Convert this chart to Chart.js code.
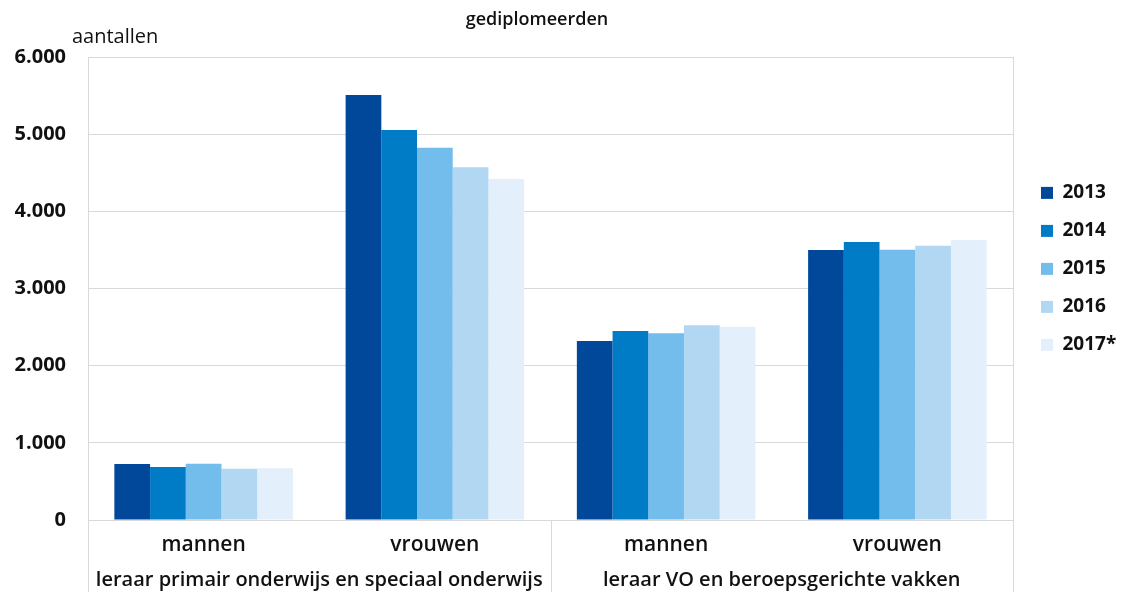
<!DOCTYPE html>
<html>
<head>
<meta charset="utf-8">
<script src="https://cdn.jsdelivr.net/npm/chart.js@4/dist/chart.umd.min.js"></script>
<style>
  html, body { margin: 0; padding: 0; background: #ffffff; }
  #wrap { width: 1124px; height: 592px; }
</style>
</head>
<body>
<div id="wrap"><canvas id="c" width="1124" height="592"></canvas></div>
<script>
const chartTitle = 'gediplomeerden';
const yAxisTitle = 'aantallen';
const categories = ['mannen', 'vrouwen', 'mannen', 'vrouwen'];
const groups = ['leraar primair onderwijs en speciaal onderwijs', 'leraar VO en beroepsgerichte vakken'];
const years = ['2013', '2014', '2015', '2016', '2017*'];
const v2013 = [726, 5507, 2320, 3499];
const v2014 = [687, 5054, 2449, 3602];
const v2015 = [730, 4825, 2419, 3503];
const v2016 = [665, 4570, 2523, 3555];
const v2017 = [670, 4419, 2505, 3628];
const yTicks = [0, 1000, 2000, 3000, 4000, 5000, 6000];

const seriesValues = [v2013, v2014, v2015, v2016, v2017];
const colors = ['#01489A', '#007BC6', '#73BDEC', '#B2D7F3', '#E3EFFA'];

const FONT = 'Open Sans';
const GRID = '#d9d9d9';

function fmt(v) {
  return String(v).replace(/\B(?=(\d{3})+(?!\d))/g, '.');
}

const decor = {
  id: 'decor',
  afterDraw(chart) {
    const ctx = chart.ctx;
    const a = chart.chartArea;
    const x = chart.scales.x;
    ctx.save();
    ctx.strokeStyle = GRID;
    ctx.lineWidth = 1;
    const mid = (x.getPixelForValue(1) + x.getPixelForValue(2)) / 2;
    const lines = [
      [x.left, a.top], [mid, a.bottom], [x.right, a.top]
    ];
    for (const [px, top] of lines) {
      const xx = Math.round(px) + 0.5;
      ctx.beginPath();
      ctx.moveTo(xx, top);
      ctx.lineTo(xx, chart.height);
      ctx.stroke();
    }
    ctx.fillStyle = '#111';
    ctx.textBaseline = 'middle';
    ctx.textAlign = 'left';
    ctx.font = '500 20px "' + FONT + '"';
    ctx.fillText(yAxisTitle, a.left - 16, 37);
    ctx.textAlign = 'center';
    ctx.font = '600 18px "' + FONT + '"';
    ctx.fillText(chartTitle, 537, 20);
    ctx.restore();
  }
};

new Chart(document.getElementById('c'), {
  type: 'bar',
  data: {
    labels: categories,
    datasets: years.map((y, i) => ({
      label: y,
      data: seriesValues[i],
      backgroundColor: colors[i],
      borderWidth: 0,
      categoryPercentage: 0.772,
      barPercentage: 1.0
    }))
  },
  options: {
    responsive: false,
    animation: false,
    devicePixelRatio: 1,
    layout: { padding: { top: 57, left: 15, right: 2, bottom: 0 } },
    plugins: {
      title: { display: false },
      tooltip: { enabled: false },
      legend: {
        position: 'right',
        align: 'start',
        maxWidth: 100,
        title: { display: true, text: '', padding: 46.5, font: { size: 12 } },
        labels: {
          boxWidth: 12,
          boxHeight: 12,
          padding: 19,
          color: '#111',
          font: { family: FONT, size: 19, weight: '700' }
        }
      }
    },
    scales: {
      x: {
        type: 'category',
        offset: true,
        grid: { display: false, drawTicks: false, tickLength: 0 },
        border: { display: false },
        afterFit(s) { s.height = 37; },
        ticks: {
          color: '#111',
          padding: 12,
          maxRotation: 0,
          autoSkip: false,
          font: { family: FONT, size: 21, weight: '600' }
        }
      },
      x2: {
        type: 'category',
        labels: groups,
        position: 'bottom',
        offset: true,
        grid: { display: false, drawTicks: false, tickLength: 0 },
        border: { display: false },
        afterFit(s) { s.height = 35; },
        ticks: {
          color: '#111',
          padding: 11,
          maxRotation: 0,
          autoSkip: false,
          font: { family: FONT, size: 20, weight: '600' }
        }
      },
      y: {
        min: 0,
        max: 6000,
        afterBuildTicks(axis) { axis.ticks = yTicks.map(v => ({ value: v })); },
        afterFit(s) { s.width = 73; },
        grid: { color: GRID, lineWidth: 1, drawTicks: false, tickLength: 0 },
        border: { display: true, color: GRID },
        ticks: {
          color: '#111',
          padding: 22,
          font: { family: FONT, size: 20, weight: '700' },
          callback: (v) => fmt(v)
        }
      },
      ySpacer: {
        position: 'right',
        min: 0,
        max: 6000,
        afterFit(s) { s.width = 9; },
        grid: { display: false, drawTicks: false, tickLength: 0 },
        border: { display: false },
        ticks: { display: false }
      }
    }
  },
  plugins: [decor]
});
</script>
</body>
</html>
